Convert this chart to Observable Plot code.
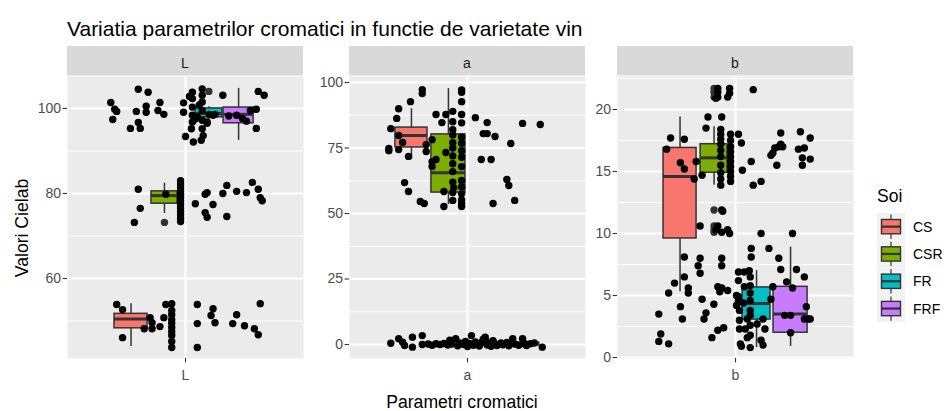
<!DOCTYPE html>
<html><head><meta charset="utf-8">
<script src="https://cdn.jsdelivr.net/npm/d3@7"></script>
<script src="https://cdn.jsdelivr.net/npm/@observablehq/plot@0.6"></script>
<style>
html,body{margin:0;padding:0;background:#fff;}
#chart{position:relative;width:944px;height:411px;overflow:hidden;font-family:"Liberation Sans",Arial,sans-serif;}
#chart svg{position:absolute;}
</style></head><body><div id="chart"></div><script>
// ---------------- DATA ----------------
const soiNames = ["CS", "CSR", "FR", "FRF"];
const facetNames = ["L", "a", "b"];
const axisTitleX = "Parametri cromatici";
const axisTitleY = "Valori Cielab";
const chartTitle = "Variatia parametrilor cromatici in functie de varietate vin";
const legendTitle = "Soi";

const ticksL = [60, 80, 100];
const ticksA = [0, 25, 50, 75, 100];
const ticksB = [0, 5, 10, 15, 20];

// box statistics per Soi: [lower whisker, Q1, median, Q3, upper whisker]
const boxL = [[44.0, 48.3, 50.5, 51.7, 54.1], [75.3, 77.6, 79.5, 80.5, 82.4], [97.3, 97.9, 98.8, 100.0, 100.4], [92.5, 96.5, 98.6, 100.2, 104.7]];
const boxA = [[70.6, 75.2, 79.8, 82.8, 90.0], [53.4, 58.0, 65.6, 80.2, 97.7], [-1.0, 0.0, 0.4, 0.9, 2.2], [-1.3, -0.3, 0.2, 0.7, 2.0]];
const boxB = [[5.3, 9.6, 14.6, 16.9, 19.4], [13.9, 14.9, 16.1, 17.2, 18.6], [0.8, 3.06, 4.35, 5.65, 7.0], [0.9, 2.0, 3.5, 5.7, 8.9]];

// boxplot outliers: [Soi, value]
const outL = [["CSR", 73.2], ["FR", 104.0]];
const outA = [];
const outB = [["CSR", 21.7], ["CSR", 21.4], ["CSR", 21.0], ["CSR", 11.9], ["CSR", 10.6], ["CSR", 10.3], ["CSR", 10.1]];

// jittered observations: [jitter offset (category units), value]
const pointsL = [
  [-0.24,104.5],[-0.19,103.8],[-0.38,101.4],[-0.36,99.8],[-0.37,97.4],[-0.35,99.3],[-0.25,99.3],[-0.20,100.5],[-0.20,99.1],[-0.24,96.7],[-0.28,95.3],[-0.23,95.3],[-0.13,101.4],[-0.14,99.5],[-0.11,98.6],
  [-0.01,101.3],[-0.01,99.1],[0.035,103.8],[0.035,102.3],[0.035,100.3],[0.035,98.4],[0.035,96.8],[0.03,95.2],[0.085,104.6],[0.085,103.1],[0.085,101.5],[0.085,99.5],[0.085,97.2],[0.085,95.2],[0.09,93.6],[0.00,93.4],[0.04,92.1],[0.08,92.5],[0.11,96.8],[0.06,98.0],[0.05,97.5],[0.07,100.8],[0.02,102.8],
  [0.14,98.4],[0.19,103.1],[0.37,104.0],[0.40,103.1],[0.26,98.4],[0.29,97.6],[0.33,99.5],[0.36,99.8],[0.36,95.3],[0.12,98.6],[0.15,98.6],[0.11,96.5],[0.22,98.2],[0.31,97.0],
  [-0.24,81.0],[-0.23,76.5],[-0.26,73.2],[-0.10,79.8],[0.05,77.6],[0.10,79.8],[0.11,80.2],[0.14,77.4],[0.10,75.5],[0.11,74.4],[0.19,80.0],[0.21,81.9],[0.26,80.5],[0.31,80.2],[0.34,82.6],[0.37,81.0],[0.38,79.0],[0.39,78.3],[0.21,74.6],
  [-0.025,83.0],[-0.025,82.2],[-0.025,81.4],[-0.025,80.6],[-0.025,79.8],[-0.025,79.0],[-0.025,78.2],[-0.025,77.4],[-0.025,76.6],[-0.025,75.8],[-0.025,75.0],[-0.025,74.2],[-0.025,73.4],
  [-0.35,53.9],[-0.32,52.7],[-0.32,46.1],[-0.18,50.8],[-0.17,49.6],[-0.21,48.2],[-0.17,48.2],[-0.13,48.7],[-0.11,50.8],[-0.10,53.9],
  [-0.07,54.1],[-0.07,52.5],[-0.07,51.5],[-0.07,50.3],[-0.07,49.5],[-0.07,48.5],[-0.07,47.5],[-0.07,46.6],[-0.07,45.2],[-0.07,43.8],
  [0.06,53.9],[0.06,49.4],[0.06,43.8],[0.14,52.9],[0.13,51.3],[0.15,49.6],[0.26,51.5],[0.24,49.4],[0.30,48.9],[0.35,48.2],[0.37,46.8],[0.38,54.1]
];
const pointsA = [
  [-0.23,97.3],[-0.23,95.8],[-0.29,92.7],[-0.35,90.0],[-0.36,86.3],[-0.39,82.4],[-0.35,79.8],[-0.33,77.1],[-0.40,74.8],[-0.40,74.0],[-0.35,74.4],[-0.21,76.3],[-0.21,73.7],[-0.30,71.8],[-0.32,61.8],[-0.30,58.4],[-0.24,54.6],[-0.22,53.8],[-0.12,52.7],[-0.12,58.4],[-0.18,78.2],[-0.16,87.8],[-0.11,87.8],[-0.13,84.7],[-0.18,69.8],[-0.18,67.9],[-0.16,70.6],[-0.11,73.3],[-0.07,59.9],
  [-0.075,89],[-0.075,85],[-0.075,82],[-0.075,80],[-0.075,77],[-0.075,75],[-0.075,72],[-0.075,69],[-0.075,66],[-0.075,62],[-0.075,58],[-0.075,55],
  [-0.03,97.2],[-0.03,96.3],[-0.03,92.7],[-0.03,87.8],[-0.03,84.6],[-0.03,79.1],[-0.03,76.8],[-0.03,74.0],[-0.03,71.5],[-0.03,67.9],[-0.03,62.6],[-0.03,60.1],[-0.03,57.5],[-0.03,55.2],[-0.03,53.7],[-0.03,52.7],
  [0.04,86.6],[0.10,84.7],[0.08,80.5],[0.10,80.5],[0.14,79.4],[0.07,70.6],[0.12,70.6],[0.22,76.7],[0.28,84.4],[0.37,84.0],[0.20,63.0],[0.21,60.7],[0.24,55.0],[0.13,53.8],
  [-0.39,0.5],[-0.35,2.2],[-0.33,0.9],[-0.32,-0.4],[-0.28,2.8],[-0.28,-1.0],[-0.23,3.4],[-0.23,0.0],[-0.20,0.2],[-0.18,-0.3],[-0.16,0.3],[-0.14,0.0],[-0.12,0.4],[-0.10,-0.2],[-0.09,1.6],[-0.08,0.2],[-0.06,2.2],[-0.05,-0.5],[-0.04,0.6],[-0.02,0.0],[-0.01,1.2],[0.00,-0.8],[0.01,0.4],[0.02,3.4],[0.03,-0.3],[0.04,1.0],[0.05,0.2],[0.06,-0.6],[0.07,0.7],[0.08,2.0],[0.09,2.8],[0.10,-0.2],[0.11,0.5],[0.12,-0.7],[0.13,1.5],[0.14,0.1],[0.15,-0.4],[0.17,0.6],[0.18,-0.1],[0.20,0.8],[0.21,-0.5],[0.23,2.2],[0.24,0.2],[0.26,-0.3],[0.28,2.2],[0.29,0.4],[0.30,-0.4],[0.32,0.3],[0.34,0.6],[0.38,-1.0]
];
const pointsB = [
  [0.09,21.6],[-0.09,21.7],[-0.09,21.4],[-0.09,21.0],[-0.10,20.9],[-0.03,21.7],[-0.03,21.3],[-0.04,21.0],[-0.14,19.4],[-0.07,19.4],[-0.15,18.5],
  [-0.075,18.4],[-0.075,18.0],[-0.075,17.6],[-0.075,17.2],[-0.075,16.7],[-0.075,16.2],[-0.075,15.5],[-0.075,14.9],[-0.075,14.4],[-0.075,13.9],
  [-0.025,18.0],[-0.025,17.5],[-0.025,17.0],[-0.025,16.6],[-0.025,16.2],[-0.025,15.8],[-0.025,15.4],[-0.025,15.0],[-0.025,14.6],[-0.025,14.2],
  [0.015,18.0],[0.03,17.3],[0.035,15.1],[0.08,15.8],[0.09,13.9],[0.13,14.2],[-0.33,17.7],[-0.26,17.6],[-0.35,16.8],[-0.28,15.7],[-0.26,15.2],[-0.21,14.4],[-0.20,15.8],[-0.17,14.7],[-0.07,11.9],[-0.065,11.8],
  [0.18,16.3],[0.19,16.5],[0.20,16.9],[0.22,17.0],[0.23,17.2],[0.24,17.0],[0.23,18.1],[0.21,15.5],[0.33,18.2],[0.32,16.8],[0.35,16.9],[0.34,16.1],[0.38,17.7],[0.38,16.0],[0.34,15.5],
  [-0.18,10.6],[-0.10,10.3],[-0.09,10.6],[-0.07,10.1],[-0.04,10.3],[-0.03,10.0],[0.13,10.0],[0.29,10.0],[0.08,8.8],[0.17,8.8],[-0.26,8.1],[-0.18,8.0],[-0.19,7.4],[-0.18,6.8],[-0.07,8.0],[-0.07,7.4],[0.08,8.1],[0.22,8.0],[0.23,7.1],[0.31,7.1],[0.35,6.5],[-0.26,6.5],[-0.31,6.0],[-0.34,5.2],[-0.24,5.6],[-0.24,5.2],[-0.28,4.1],[-0.27,3.1],[-0.39,3.5],[-0.38,1.9],[-0.39,1.3],[-0.34,1.1],[-0.17,4.7],[-0.15,3.6],[-0.16,3.1],[-0.11,4.3],[-0.09,5.7],[-0.07,5.6],[-0.04,5.4],[-0.08,5.3],[-0.09,2.2],[-0.06,2.4],[-0.12,1.6],
  [0.015,6.9],[0.015,6.2],[0.015,4.9],[0.015,4.6],[0.02,3.8],[0.02,3.0],[0.02,2.3],[0.025,1.1],[0.07,7.0],[0.075,6.5],[0.075,5.8],[0.075,5.2],[0.075,4.6],[0.075,3.8],[0.075,3.4],[0.075,2.6],[0.075,1.8],[0.075,0.8],[0.045,6.9],[0.045,5.7],[0.05,2.3],[0.06,1.6],[0.005,5.0],[0.005,4.2],[0.04,4.4],[0.06,3.1],[0.03,0.9],
  [0.14,3.1],[0.15,2.3],[0.13,1.4],[0.14,1.0],[0.11,2.7],
  [0.19,5.7],[0.18,4.7],[0.26,6.1],[0.29,5.6],[0.25,3.4],[0.28,3.4],[0.35,3.1],[0.37,3.1],[0.38,3.1],[0.36,4.1],[0.28,2.0]
];

// ---------------- LAYOUT / STYLE ----------------
const FONT = '"Liberation Sans", Arial, sans-serif';
const soiColors = ["#F8766D", "#7CAE00", "#00BFC4", "#C77CFF"];
const PANEL_LEFT = [67, 349, 617];
const PW = 236, PTOP = 76, PH = 282, ML = 45, MB = 34;
const DOT_R = 3.7;
const yDomains = [[41.2, 107.5], [-5.34, 102.3], [-0.08, 22.66]];
// dodge centre and width (category units) for each Soi's box, per panel
const boxLayouts = [
  [[-0.277, 0.168], [-0.107, 0.132], [0.119, 0.137], [0.270, 0.153]],
  [[-0.285, 0.163], [-0.097, 0.173], [0.107, 0.142], [0.280, 0.170]],
  [[-0.282, 0.168], [-0.109, 0.137], [0.107, 0.142], [0.280, 0.173]]
];
function minorOf(ticks, dom) {
  const step = ticks[1] - ticks[0];
  const out = [];
  for (let v = ticks[0] - step / 2; v <= dom[1]; v += step) if (v >= dom[0]) out.push(v);
  return out;
}

const chart = document.getElementById("chart");

// text/decoration overlay
const ov = d3.select(chart).append("svg").attr("width", 944).attr("height", 411)
  .style("left", "0px").style("top", "0px").attr("font-family", FONT);
ov.append("text").attr("x", 67).attr("y", 36).attr("font-size", 21).attr("fill", "#000").text(chartTitle);
facetNames.forEach((f, i) => {
  ov.append("rect").attr("x", PANEL_LEFT[i]).attr("y", 46).attr("width", PW).attr("height", 29.5).attr("fill", "#D9D9D9");
  ov.append("text").attr("x", PANEL_LEFT[i] + PW / 2).attr("y", 67.5).attr("text-anchor", "middle")
    .attr("font-size", 14).attr("fill", "#1A1A1A").text(f);
});
ov.append("text").attr("transform", "translate(28,228) rotate(-90)").attr("text-anchor", "middle")
  .attr("font-size", 17.6).attr("fill", "#000").text(axisTitleY);
ov.append("text").attr("x", 462).attr("y", 408).attr("text-anchor", "middle")
  .attr("font-size", 17.6).attr("fill", "#000").text(axisTitleX);

// legend
ov.append("text").attr("x", 877).attr("y", 202).attr("font-size", 17.6).attr("fill", "#000").text(legendTitle);
soiNames.forEach((s, k) => {
  const top = 213 + k * 27.3, cx = 891;
  const g = ov.append("g");
  g.append("rect").attr("x", 877).attr("y", top).attr("width", 28).attr("height", 27.3).attr("fill", "#F2F2F2");
  g.append("line").attr("x1", cx).attr("x2", cx).attr("y1", top + 1.5).attr("y2", top + 25.8).attr("stroke", "#333").attr("stroke-width", 1.2);
  g.append("rect").attr("x", 881.5).attr("y", top + 6.5).attr("width", 19).attr("height", 14.3)
    .attr("fill", soiColors[k]).attr("stroke", "#333").attr("stroke-width", 1.4);
  g.append("line").attr("x1", 881.5).attr("x2", 900.5).attr("y1", top + 13.65).attr("y2", top + 13.65).attr("stroke", "#333").attr("stroke-width", 2.2);
  g.append("text").attr("x", 913).attr("y", top + 13.65 + 5).attr("font-size", 14).attr("fill", "#000").text(s);
});

function panel(i, name, points, stats, outliers, major) {
  const layout = boxLayouts[i];
  const domain = yDomains[i];
  const minor = minorOf(major, domain);
  const boxes = soiNames.map((s, k) => ({
    soi: s, xc: layout[k][0], x1: layout[k][0] - layout[k][1] / 2, x2: layout[k][0] + layout[k][1] / 2,
    lo: stats[k][0], q1: stats[k][1], med: stats[k][2], q3: stats[k][3], hi: stats[k][4]
  }));
  const outs = outliers.map(([s, v]) => ({x: layout[soiNames.indexOf(s)][0], v}));
  const pts = points.map(([dx, v]) => ({dx, v}));
  const svg = Plot.plot({
    width: ML + PW, height: PH + MB,
    marginLeft: ML, marginRight: 0, marginTop: 0, marginBottom: MB,
    x: {domain: [-0.6, 0.6]},
    y: {domain},
    color: {domain: soiNames, range: soiColors},
    style: {background: "transparent", fontFamily: FONT, fontSize: "14px", overflow: "visible"},
    marks: [
      Plot.frame({fill: "#EBEBEB", stroke: "none"}),
      Plot.ruleY(minor, {stroke: "#fff", strokeWidth: 1.1}),
      Plot.ruleY(major, {stroke: "#fff", strokeWidth: 2.1}),
      Plot.ruleX([0], {stroke: "#fff", strokeWidth: 2.1}),
      Plot.ruleX(boxes, {x: "xc", y1: "lo", y2: "q1", stroke: "#333", strokeWidth: 1.5}),
      Plot.ruleX(boxes, {x: "xc", y1: "q3", y2: "hi", stroke: "#333", strokeWidth: 1.5}),
      Plot.rect(boxes, {x1: "x1", x2: "x2", y1: "q1", y2: "q3", fill: "soi", stroke: "#333", strokeWidth: 1.5}),
      Plot.ruleY(boxes, {y: "med", x1: "x1", x2: "x2", stroke: "#333", strokeWidth: 3}),
      Plot.dot(outs, {x: "x", y: "v", r: DOT_R, fill: "#333", stroke: "none"}),
      Plot.dot(pts, {x: "dx", y: "v", r: DOT_R, fill: "#000", stroke: "none"}),
      Plot.axisY(major, {tickSize: 4.4, tickPadding: 2, stroke: "#333", strokeWidth: 1.1, fill: "#4D4D4D", fontSize: 14, label: null}),
      Plot.axisX([0], {tickSize: 4.4, tickPadding: 7.5, tickFormat: () => name, stroke: "#333", strokeWidth: 1.1, fill: "#4D4D4D", fontSize: 14, label: null})
    ]
  });
  svg.style.position = "absolute";
  svg.style.left = (PANEL_LEFT[i] - ML) + "px";
  svg.style.top = PTOP + "px";
  svg.style.maxWidth = "none";
  chart.appendChild(svg);
}

panel(0, facetNames[0], pointsL, boxL, outL, ticksL);
panel(1, facetNames[1], pointsA, boxA, outA, ticksA);
panel(2, facetNames[2], pointsB, boxB, outB, ticksB);
</script></body></html>
